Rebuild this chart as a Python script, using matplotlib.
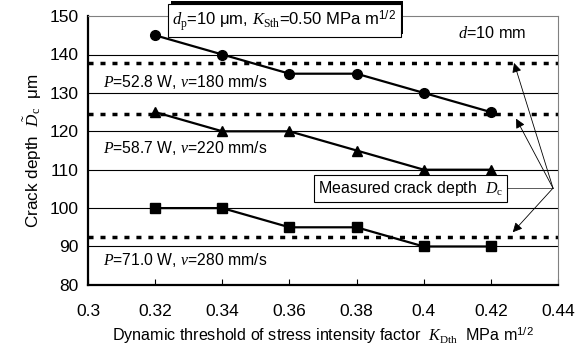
import matplotlib
matplotlib.use("Agg")
import matplotlib.pyplot as plt
import matplotlib.patheffects as pe

plt.rcParams['font.family'] = ['Liberation Sans', 'DejaVu Sans']
plt.rcParams['mathtext.fontset'] = 'custom'
plt.rcParams['mathtext.it'] = 'Liberation Serif:italic'
plt.rcParams['mathtext.rm'] = 'Liberation Serif'
plt.rcParams['mathtext.sf'] = 'Liberation Sans'

# --- data ---
k_dth = [0.32, 0.34, 0.36, 0.38, 0.40, 0.42]
depth_528 = [145, 140, 135, 135, 130, 125]   # P=52.8 W
depth_587 = [125, 120, 120, 115, 110, 110]   # P=58.7 W
depth_710 = [100, 100, 95, 95, 90, 90]       # P=71.0 W
measured = [137.8, 124.4, 92.5]
conditions = [r'$P$=52.8 W, $v$=180 mm/s',
              r'$P$=58.7 W, $v$=220 mm/s',
              r'$P$=71.0 W, $v$=280 mm/s']
cond_y = [132.8, 115.6, 86.5]
xticks = [0.3, 0.32, 0.34, 0.36, 0.38, 0.4, 0.42, 0.44]
xtick_labels = ['0.3', '0.32', '0.34', '0.36', '0.38', '0.4', '0.42', '0.44']
yticks = [80, 90, 100, 110, 120, 130, 140, 150]

fig = plt.figure(figsize=(5.81, 3.5), dpi=100)
ax = fig.add_axes([0.1515, 0.186, 0.809, 0.768])

for y in yticks[1:-1]:
    ax.axhline(y, color='black', lw=0.8, zorder=1)
for y in measured:
    ax.axhline(y, color='black', lw=2.5, linestyle=(0, (1.45, 2.0)), zorder=2)

ax.plot(k_dth, depth_528, '-o', color='black', lw=1.6, ms=7, zorder=3)
ax.plot(k_dth, depth_587, '-^', color='black', lw=1.6, ms=7, zorder=3)
ax.plot(k_dth, depth_710, '-s', color='black', lw=1.6, ms=7, zorder=3)

for txt, y in zip(conditions, cond_y):
    ax.text(0.3045, y, txt, fontsize=11.3, va='center', ha='left', zorder=4)

ax.text(0.4205, 145.6, r'$d$=10 mm', fontsize=11.7, ha='center', va='center')

t = ax.text(0.3585, 148.9, r'$d_\mathrm{p}$=10 μm, $K_\mathrm{Sth}$=0.50 MPa m$^\mathsf{1/2}$',
            fontsize=12, ha='center', va='center', clip_on=False, zorder=6,
            bbox=dict(boxstyle='square,pad=0.25', fc='white', ec='black', lw=0.8))
t.get_bbox_patch().set_path_effects([
    pe.SimplePatchShadow(offset=(2, 2), shadow_rgbFace='black', alpha=1.0),
    pe.Normal()])

# measured depth legend box with arrows
jx, jy = 0.4385, 105.2
ax.plot([0.41, jx], [jy, jy], color='0.35', lw=0.7, zorder=4)
ax.text(0.396, jy, r'Measured crack depth  $D_\mathrm{c}$', fontsize=11.5,
        ha='center', va='center', zorder=5,
        bbox=dict(boxstyle='square,pad=0.25', fc='white', ec='black', lw=0.8))
for tip in [(0.4269, 137.8), (0.4275, 123.3), (0.4265, 93.7)]:
    ax.annotate('', xy=tip, xytext=(jx, jy), zorder=5,
                arrowprops=dict(arrowstyle='-|>', color='black', lw=0.6,
                                mutation_scale=14, shrinkA=0, shrinkB=0))

ax.set_xlim(0.3, 0.44)
ax.set_ylim(80, 150)
ax.set_xticks(xticks)
ax.set_xticklabels(xtick_labels)
ax.set_yticks(yticks)
ax.tick_params(axis='x', direction='in', length=4, labelsize=12.5, pad=14)
ax.tick_params(axis='y', length=0, labelsize=12.5, pad=7)
for s in ['left', 'bottom']:
    ax.spines[s].set_linewidth(1.6)
for s in ['top', 'right']:
    ax.spines[s].set_color('0.5')
    ax.spines[s].set_linewidth(0.8)

ax.set_xlabel(r'Dynamic threshold of stress intensity factor  $K_\mathrm{Dth}$  MPa m$^\mathsf{1/2}$',
              fontsize=11.6, labelpad=4)
ax.set_ylabel(r'Crack depth  $\tilde{D}_\mathrm{c}$  μm', fontsize=12.3, labelpad=4)

fig.savefig('out.png', dpi=100)
